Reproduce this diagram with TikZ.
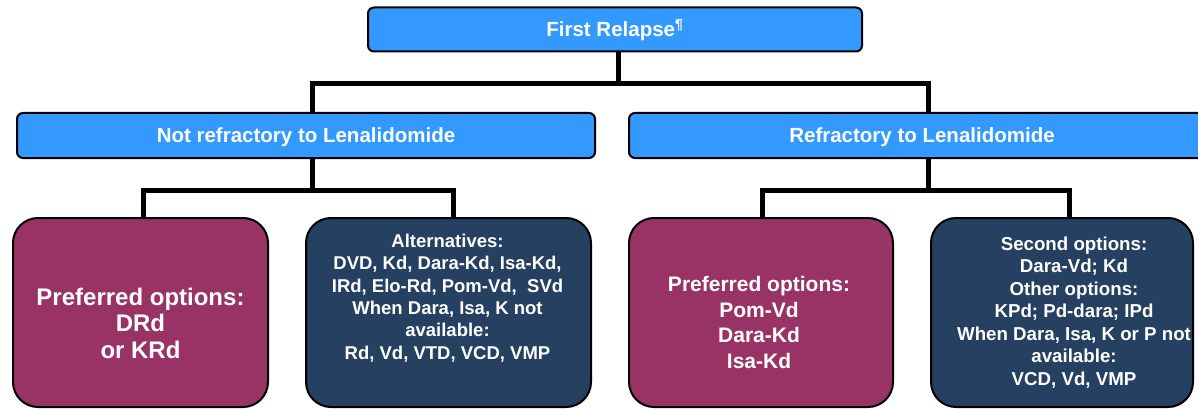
\documentclass[tikz,border=0pt]{standalone}
\usepackage{fontspec}
\setmainfont{Liberation Sans}
\definecolor{hblue}{HTML}{3399FF}
\definecolor{prefcol}{HTML}{993366}
\definecolor{navycol}{HTML}{254061}
\tikzset{
  hdr/.style={draw=black, line width=2pt, fill=hblue, rounded corners=6pt, inner sep=0pt,
    text=white, font=\bfseries\fontsize{20.5}{24}\selectfont, text height=14.7pt, text depth=0pt},
  optbox/.style={draw=black, line width=2pt, rounded corners=25pt, inner sep=0pt,
    minimum height=189pt},
  prefbox/.style={optbox, fill=prefcol},
  altbox/.style={optbox, fill=navycol},
  txt/.style={text=white, align=center, inner sep=0pt},
  conn/.style={line width=5pt, black}
}
\begin{document}
\begin{tikzpicture}[x=1pt,y=-1pt]
\useasboundingbox (0,0) rectangle (1198,409);
\clip (0,0) rectangle (1198,409);
% boxes
\node[hdr, minimum width=494pt, minimum height=44pt] (top) at (615,29.5) {First Relapse\textsuperscript{¶}};
\node[hdr, minimum width=578pt, minimum height=45pt] (notref) at (306,135.5) {Not refractory to Lenalidomide};
\node[hdr, minimum width=586pt, minimum height=45pt] (ref) at (922,135.5) {Refractory to Lenalidomide};
\node[prefbox, minimum width=255pt] (b1) at (140.5,312.5) {};
\node[altbox, minimum width=285pt] (b2) at (448.5,312.5) {};
\node[prefbox, minimum width=264pt] (b3) at (761,312.5) {};
\node[altbox, minimum width=262pt] (b4) at (1062,312.5) {};
% connector junctions
\coordinate (j0) at (618,83.5);
\coordinate (j1) at (312,190);
\coordinate (j2) at (928,190);
\coordinate (l1) at (143,190);
\coordinate (l2) at (453,190);
\coordinate (r1) at (762,190);
\coordinate (r2) at (1069,190);
\draw[conn] (top.south -| j0) -- (j0);
\draw[conn] (notref.north -| j1) |- (j0) -| (ref.north -| j2);
\draw[conn] (notref.south -| j1) -- (j1);
\draw[conn] (b1.north -| l1) -- (l1) -- (l2) -- (b2.north -| l2);
\draw[conn] (ref.south -| j2) -- (j2);
\draw[conn] (b3.north -| r1) -- (r1) -- (r2) -- (b4.north -| r2);
% texts
\node[txt, font=\bfseries\fontsize{24}{26.5}\selectfont] (b1t) at (140.5,323)
  {Preferred options:\\DRd\\or KRd};
\node[txt, font=\bfseries\fontsize{18.5}{22.4}\selectfont] (b2t) at (447.5,298)
  {Alternatives:\\DVD, Kd, Dara-Kd, Isa-Kd,\\IRd, Elo-Rd, Pom-Vd,\ \ SVd\\When Dara, Isa, K not\\available:\\Rd, Vd, VTD, VCD, VMP};
\node[txt, font=\bfseries\fontsize{21}{25.7}\selectfont] (b3t) at (759,322.5)
  {Preferred options:\\Pom-Vd\\Dara-Kd\\Isa-Kd};
\node[txt, font=\bfseries\fontsize{18.7}{22.5}\selectfont] (b4t) at (1074,312.5)
  {Second options:\\Dara-Vd; Kd\\Other options:\\KPd; Pd-dara; IPd\\When Dara, Isa, K or P not\\available:\\VCD, Vd, VMP};
\end{tikzpicture}
\end{document}
